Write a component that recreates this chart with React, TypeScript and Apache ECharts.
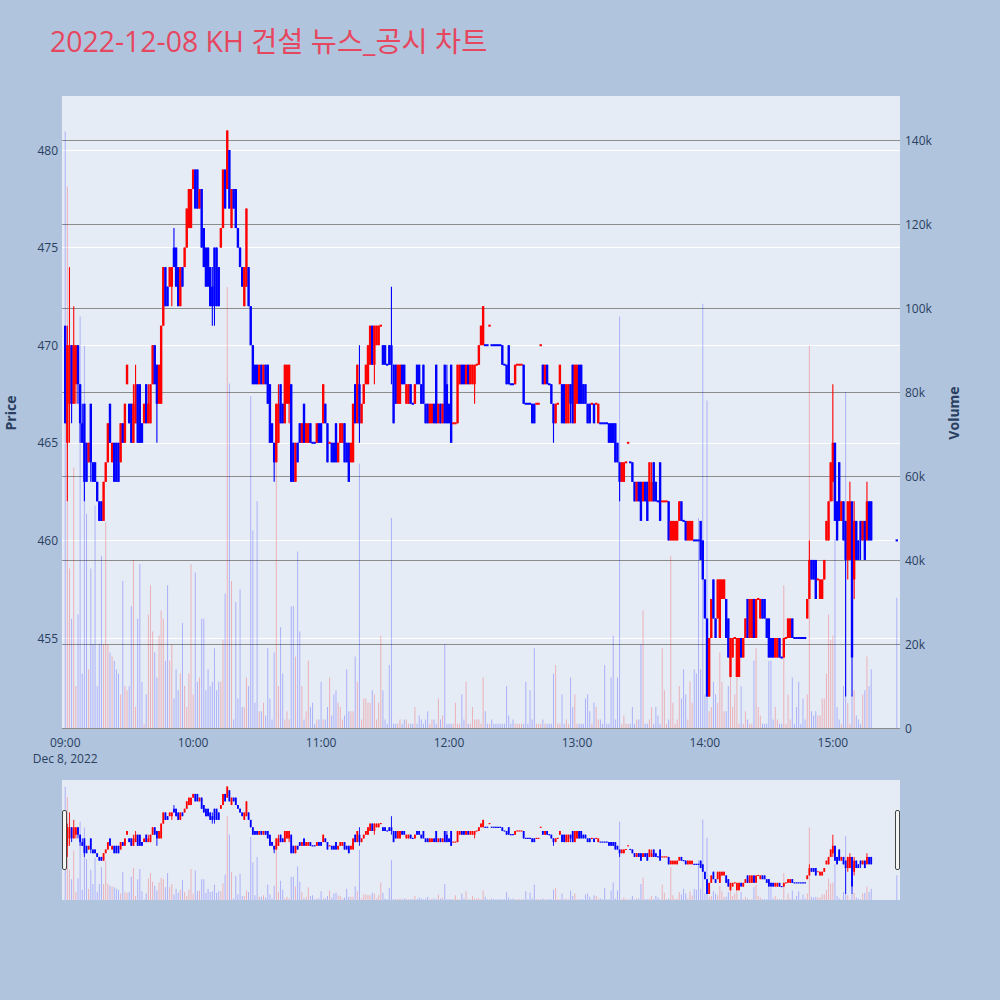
import React, { useEffect, useRef } from "react";
import * as echarts from "echarts";

// rows: [open, high, low, close, volume(thousands)] one per minute
const h09 = [
  [471,471,466,466,142],[465,471,462,470,129],[467,474,465,470,38],[470,470,466,467,26],[467,472,467,470,62],
  [468,470,467,470,10],[470,470,467,468,27],[468,468,465,466,98],[466,467,465,465,13],[467,467,462,463,91],
  [465,465,463,463,51],[464,465,464,465,14],[467,467,463,464,38],[464,464,463,463,20],[464,464,463,463,53],
  [463,463,462,462,10],[462,462,461,461,20],[462,462,461,461,41],[461,463,461,463,20],[463,464,463,464,49],
  [464,466,464,466,20],[467,467,465,465,18],[464,465,464,465,17],[465,465,463,463,16],[465,465,463,463,14],
  [465,465,463,463,13],[464,466,464,466,8],[466,466,465,465,35],[465,467,465,467,10],[468,469,468,469,9],
  [467,467,466,466,10],[467,467,465,465,29],[465,468,465,467,40],[466,469,466,468,5],[468,468,465,465,26],
  [468,468,465,465,39],[466,466,465,465,11],[466,467,466,467,1],[468,468,466,466,8],[466,468,466,467,27],
  [466,468,466,468,34],[468,470,468,470,23],[470,470,468,468,18],[469,469,465,467,12],[467,469,467,469,22],
  [467,471,467,471,28],[471,474,471,474,26],[474,474,472,472,16],[473,473,472,472,34],[473,474,473,474,16],
  [473,474,472,474,20],[475,476,474,474,7],[475,475,473,473,14],[474,474,472,472,9],[472,474,472,474,13],
  [474,474,473,473,25],[474,475,474,475,10],[475,477,475,477,5],[476,478,476,478,13],[476,478,476,478,39],
];
const h10 = [
  [478,479,478,479,8],[479,479,477,477,37],[479,479,477,477,11],[477,478,477,478,12],[478,478,475,475,26],
  [476,476,474,474,26],[475,475,473,473,9],[475,475,473,473,14],[474,474,472,472,10],[473,474,471,472,11],
  [475,475,471,472,19],[475,475,472,472,9],[474,474,472,472,11],[475,476,475,476,11],[476,479,476,479,21],
  [479,479,477,477,32],[478,481,478,481,105],[480,480,477,477,82],[476,478,476,478,35],[478,478,477,477,2],
  [478,478,476,476,30],[476,476,475,475,7],[475,475,474,474,33],[474,474,473,473,5],[472,474,472,474,5],
  [473,477,473,477,12],[474,474,472,472,10],[472,472,470,470,79],[470,470,468,468,47],[469,469,468,468,6],
  [469,469,468,468,54],[468,469,468,469,4],[469,469,468,468,4],[468,469,468,469,6],[469,469,468,468,3],
  [469,469,467,467,19],[468,468,465,465,7],[466,466,465,465,2],[465,465,463,464,18],[464,467,464,467,67],
  [465,468,465,467,10],[468,468,466,466,24],[467,467,466,466,13],[466,469,466,469,2],[467,469,467,469,4],
  [467,469,466,469,2],[468,468,463,463,29],[465,465,463,463,29],[463,465,463,465,17],[465,465,464,464,42],
  [466,466,465,465,23],[465,466,465,466,10],[467,467,465,465,2],[465,466,465,466,4],[465,466,465,466,16],
  [466,466,465,465,5],[465,465,465,465,6],[465,465,465,465,1],[465,466,465,466,2],[466,466,465,465,2],
];
const h11 = [
  [466,466,465,465,11],[466,468,466,468,2],[467,467,466,466,2],[466,466,464,464,5],[465,465,465,465,12],
  [465,465,464,464,3],[465,465,464,464,8],[466,466,464,464,9],[464,465,464,465,6],[465,466,465,466,5],
  [465,466,465,466,2],[466,466,464,464,3],[465,465,464,464,14],[465,465,463,463,4],[464,465,464,465,4],
  [464,467,464,467,4],[468,468,466,466,17],[466,469,466,469,11],[468,470,465,466,63],[466,467,466,467,2],
  [467,468,467,468,7],[468,469,468,469,7],[468,470,468,470,6],[469,471,469,471,6],[471,471,469,469,9],
  [469,471,468,471,8],[470,471,470,471,2],[470,471,470,471,6],[471,471,471,471,22],[470,470,469,469,9],
  [470,470,469,469,2],[469,469,469,469,1],[470,470,469,469,15],[470,473,468,469,50],[469,469,466,466,1],
  [469,469,467,467,1],[467,469,467,469,1],[467,469,467,469,2],[469,469,468,468,1],[469,469,468,468,2],
  [467,468,467,468,2],[467,468,467,468,1],[468,468,467,467,1],[467,467,467,467,1],[467,468,467,468,5],
  [469,469,468,468,1],[469,469,468,468,3],[468,468,467,467,2],[469,469,467,467,1],[467,467,466,466,2],
  [467,467,466,466,4],[466,467,466,467,1],[466,467,466,467,2],[467,467,466,466,2],[469,469,466,466,1],
  [466,467,466,467,7],[467,467,466,466,2],[466,467,466,467,3],[469,469,466,466,20],[468,469,466,466,1],
];
const h12 = [
  [467,467,466,466,1],[469,469,465,465,1],[466,466,466,466,1],[466,466,466,466,6],[466,469,466,469,1],
  [468,469,468,469,1],[469,469,468,468,8],[469,469,468,468,2],[468,469,468,469,11],[469,469,468,468,1],
  [468,469,468,469,1],[468,469,468,469,5],[468,469,467,469,2],[469,469,469,469,2],[469,470,469,470,2],
  [470,471,470,471,1],[470,472,470,472,12],[470,470,470,470,4],[470,470,470,470,1],[471,471,471,471,1],
  [470,470,470,470,2],[470,470,470,470,1],[470,470,470,470,1],[470,470,470,470,1],[470,470,470,470,1],
  [470,470,469,469,1],[469,469,469,469,1],[469,469,468,468,10],[470,470,468,468,3],[468,468,468,468,1],
  [468,468,468,468,2],[468,469,468,469,1],[469,469,469,469,1],[469,469,469,469,1],[469,469,469,469,1],
  [469,469,467,467,1],[467,467,467,467,11],[467,467,467,467,1],[467,467,467,467,9],[467,467,466,466,2],
  [467,467,466,466,19],[467,467,467,467,1],[467,467,467,467,1],[470,470,470,470,1],[469,469,468,468,2],
  [468,469,468,469,1],[469,469,468,468,1],[468,468,468,468,1],[468,468,467,467,1],[467,467,465,466,13],
  [466,467,466,467,15],[467,467,467,467,1],[468,469,468,469,1],[468,468,466,466,8],[468,468,466,466,1],
  [466,468,466,468,2],[466,468,466,468,1],[468,468,466,467,12],[469,469,466,466,5],[466,469,466,469,8],
];
const h13 = [
  [467,469,467,469,1],[469,469,467,467,1],[469,469,467,467,1],[468,468,467,467,1],[468,468,467,467,7],
  [467,467,466,466,8],[467,467,466,466,4],[467,467,467,467,1],[467,467,466,466,6],[467,467,467,467,5],
  [466,467,466,467,2],[466,466,466,466,2],[466,466,466,466,1],[466,466,466,466,15],[466,466,466,466,1],
  [466,466,465,465,1],[466,466,465,465,12],[466,466,465,465,22],[466,466,464,464,2],[465,465,464,464,12],
  [464,464,462,463,98],[463,464,463,464,1],[463,464,463,464,3],[464,464,464,464,1],[465,465,465,465,1],
  [464,464,464,464,1],[464,464,463,463,5],[463,463,462,462,1],[462,463,462,463,2],[463,463,462,462,2],
  [463,463,461,461,20],[462,463,462,463,28],[463,463,462,462,1],[463,463,461,461,1],[462,464,462,464,2],
  [462,464,462,463,5],[464,464,462,462,1],[463,463,462,462,5],[462,462,462,462,3],[464,464,461,461,1],
  [462,462,462,462,19],[462,462,462,462,9],[462,462,462,462,1],[462,462,460,460,2],[460,461,460,461,41],
  [460,461,460,461,6],[460,461,460,461,1],[460,461,460,461,2],[461,462,461,462,10],[462,462,461,461,7],
  [461,461,461,461,14],[461,461,460,460,8],[460,461,460,461,2],[460,461,460,461,11],[460,461,460,461,6],
  [460,460,460,460,14],[460,460,460,460,13],[460,460,460,460,50],[461,461,459,459,14],[460,460,458,458,101],
];
const h14 = [
  [458,458,456,456,8],[456,456,452,452,78],[452,455,452,455,4],[455,457,455,457,5],[458,458,456,456,11],
  [456,456,455,455,8],[456,458,456,458,6],[455,458,455,458,18],[457,458,457,458,11],[457,458,457,458,4],
  [457,457,455,455,4],[456,456,454,454,10],[453,455,453,455,14],[454,455,454,455,5],[455,455,455,455,8],
  [453,455,453,455,12],[453,455,453,455,1],[455,455,454,454,10],[454,455,454,455,1],[455,456,455,456,4],
  [457,457,455,455,2],[455,457,455,457,1],[455,457,455,457,1],[457,457,455,455,16],[455,457,455,457,19],
  [457,457,457,457,5],[456,457,456,457,3],[457,457,456,456,1],[457,457,456,456,1],[456,456,455,455,1],
  [456,456,454,454,16],[455,455,454,454,16],[455,455,454,454,2],[454,455,454,455,5],[454,455,454,455,2],
  [455,455,454,454,1],[454,454,454,454,1],[454,455,454,455,34],[455,455,455,455,1],[455,456,455,456,8],
  [455,456,455,456,2],[456,456,455,455,12],[455,455,455,455,1],[455,455,455,455,5],[455,455,455,455,11],
  [455,455,455,455,1],[455,455,455,455,7],[455,455,455,455,2],[456,457,456,457,8],[457,460,457,459,91],
  [459,459,458,458,4],[459,459,458,458,3],[459,459,457,457,4],[458,458,458,458,3],[457,458,457,458,3],
  [457,458,457,458,7],[458,459,458,459,7],[460,461,460,461,13],[460,462,460,462,27],[462,464,462,464,21],
];
const h15 = [
  [463,468,462,465,22],[465,465,461,461,45],[462,462,460,460,5],[464,464,461,461,2],[461,462,461,462,1],
  [462,462,460,460,10],[461,461,452,459,80],[459,462,458,462,6],[459,463,459,462,1],[462,462,452,454,8],
  [458,462,457,461,9],[461,461,459,459,3],[460,460,459,459,2],[461,461,459,460,1],[460,461,460,461,8],
  [461,461,459,459,9],[460,463,460,462,17],[462,462,460,460,10],[462,462,460,460,14],
];
const closing1530 = [460,460,460,460,31];

const priceTicks = [455, 460, 465, 470, 475, 480];
const volumeTicks = [0, 20, 40, 60, 80, 100, 120, 140];
const TITLE = "2022-12-08 KH 건설 뉴스_공시 차트";
const FONT = '"Open Sans", "Noto Sans CJK KR", sans-serif';
const UP = "#ff0000";
const DOWN = "#0000ff";

const hours = [h09, h10, h11, h12, h13, h14, h15];

function pad(n: number) { return n < 10 ? "0" + n : "" + n; }

// categories 08:59 .. 15:31
const categories: string[] = [];
const rows: (number[] | null)[] = [];
for (let i = 0; i < 393; i++) {
  const m = i - 1;
  const t = 9 * 60 + m;
  categories.push(pad(Math.floor(t / 60)) + ":" + pad(t % 60));
  let r: number[] | null = null;
  if (m >= 0 && m < 420) {
    const h = hours[Math.floor(m / 60)];
    if (h && h[m % 60]) r = h[m % 60];
  }
  if (m === 390) r = closing1530;
  rows.push(r);
}

// direction: 1 up (red), -1 down (blue); equal open/close follows previous close
const dirs: number[] = [];
let prevClose: number | null = null;
let prevDir = -1;
rows.forEach((r, i) => {
  let d = prevDir;
  if (r) {
    if (r[3] > r[0]) d = 1;
    else if (r[3] < r[0]) d = -1;
    else if (prevClose !== null) d = r[3] > prevClose ? 1 : r[3] < prevClose ? -1 : prevDir;
    prevClose = r[3];
    prevDir = d;
  }
  dirs[i] = d;
});

const candleData = rows.map((r, i) => (r ? [i, r[0], r[3], r[2], r[1], dirs[i]] : [i, "-", "-", "-", "-", 0]));
const volData = rows.map((r, i) =>
  r
    ? { value: r[4], itemStyle: { color: dirs[i] > 0 ? "rgba(255,0,0,0.25)" : "rgba(0,0,255,0.25)" } }
    : "-"
);

function makeRenderItem(bodyW: number, wickW: number, minH: number) {
  return (_params: any, api: any) => {
    const o = api.value(1);
    if (o === "-" || o == null || isNaN(o)) return null;
    const x = api.value(0);
    const c = api.value(2), l = api.value(3), h = api.value(4);
    const color = api.value(5) > 0 ? UP : DOWN;
    const pO = api.coord([x, o]);
    const pC = api.coord([x, c]);
    const pL = api.coord([x, l]);
    const pH = api.coord([x, h]);
    const cx = pO[0];
    let top = Math.min(pO[1], pC[1]);
    let hgt = Math.abs(pO[1] - pC[1]);
    if (hgt < minH) {
      top = (pO[1] + pC[1]) / 2 - minH / 2;
      hgt = minH;
    }
    return {
      type: "group",
      children: [
        { type: "line", shape: { x1: cx, y1: pH[1], x2: cx, y2: pL[1] }, style: { stroke: color, lineWidth: wickW } },
        { type: "rect", shape: { x: cx - bodyW / 2, y: top, width: bodyW, height: hgt }, style: { fill: color } },
      ],
    };
  };
}

const labelColor = "#2a3f5f";

function xAxisFor(grid: number, show: boolean) {
  return {
    type: "category",
    gridIndex: grid,
    data: categories,
    boundaryGap: true,
    show,
    axisLine: { show: false },
    axisTick: { show: false },
    splitLine: { show: false },
    axisLabel: {
      show,
      interval: (_i: number, v: string) => v.endsWith(":00"),
      formatter: (v: string) => (v === "09:00" ? "09:00\nDec 8, 2022" : v),
      color: labelColor,
      fontSize: 12,
      lineHeight: 16,
      margin: 6,
      fontFamily: FONT,
    },
  };
}

const option: any = {
  animation: false,
  backgroundColor: "#b0c4de",
  textStyle: { fontFamily: FONT },
  graphic: [
    { type: "rect", z: -10, silent: true, shape: { x: 62, y: 96, width: 838, height: 632 }, style: { fill: "#e5ecf6" } },
    { type: "rect", z: -10, silent: true, shape: { x: 62, y: 780, width: 838, height: 120 }, style: { fill: "#e5ecf6" } },
    { type: "rect", z: 50, silent: true, shape: { x: 62.5, y: 810.5, width: 4, height: 59, r: 1.5 }, style: { fill: "#f5f5f5", stroke: "#444", lineWidth: 1 } },
    { type: "rect", z: 50, silent: true, shape: { x: 895.5, y: 810.5, width: 4, height: 59, r: 1.5 }, style: { fill: "#f5f5f5", stroke: "#444", lineWidth: 1 } },
    {
      type: "text", x: 50, y: 41, z: 50,
      style: { text: TITLE, fill: "#e6475f", fontSize: 28.4, fontFamily: FONT, textAlign: "left", textVerticalAlign: "middle" },
    },
    {
      type: "text", x: 10, y: 413, rotation: Math.PI / 2, z: 50,
      style: { text: "Price", fill: labelColor, fontSize: 14, fontWeight: "bold", fontFamily: FONT, textAlign: "center", textVerticalAlign: "middle" },
    },
    {
      type: "text", x: 953, y: 413, rotation: Math.PI / 2, z: 50,
      style: { text: "Volume", fill: labelColor, fontSize: 14, fontWeight: "bold", fontFamily: FONT, textAlign: "center", textVerticalAlign: "middle" },
    },
  ],
  grid: [
    { left: 62, width: 838, top: 52.4, height: 683.2 },
    { left: 62, width: 838, top: 56, height: 672 },
    { left: 62, width: 838, top: 771.7, height: 129.7 },
    { left: 62, width: 838, top: 772.4, height: 127.6 },
  ],
  xAxis: [xAxisFor(0, false), xAxisFor(1, true), xAxisFor(2, false), xAxisFor(3, false)],
  yAxis: [
    {
      type: "value", gridIndex: 0, position: "left",
      min: priceTicks[0] - 5, max: priceTicks[priceTicks.length - 1] + 5, interval: 5,
      axisLine: { show: false }, axisTick: { show: false },
      axisLabel: { color: labelColor, fontSize: 12, margin: 4, showMinLabel: false, showMaxLabel: false, fontFamily: FONT },
      splitLine: { show: true, showMinLine: false, showMaxLine: false, lineStyle: { color: "#ffffff", width: 1 } },
    },
    {
      type: "value", gridIndex: 1, position: "right",
      min: volumeTicks[0], max: volumeTicks[volumeTicks.length - 1] + 20, interval: 20,
      axisLine: { show: false }, axisTick: { show: false },
      axisLabel: {
        color: labelColor, fontSize: 12, margin: 5, showMaxLabel: false, fontFamily: FONT,
        formatter: (v: number) => (v === 0 ? "0" : v + "k"),
      },
      splitLine: { show: true, showMaxLine: false, lineStyle: { color: "#8c8c8c", width: 1 } },
    },
    { type: "value", gridIndex: 2, min: 450, max: 485, show: false, splitLine: { show: false } },
    { type: "value", gridIndex: 3, min: 0, max: 160, show: false, splitLine: { show: false } },
  ],
  series: [
    {
      type: "bar", name: "Volume", xAxisIndex: 1, yAxisIndex: 1, data: volData,
      barWidth: 1, z: 1, silent: true,
    },
    {
      type: "custom", name: "Price", xAxisIndex: 0, yAxisIndex: 0, data: candleData,
      encode: { x: 0, y: [1, 2, 3, 4] }, z: 3, silent: true,
      renderItem: makeRenderItem(2.4, 1.1, 2),
    },
    {
      type: "bar", xAxisIndex: 3, yAxisIndex: 3, data: volData,
      barWidth: 1, z: 1, silent: true,
    },
    {
      type: "custom", xAxisIndex: 2, yAxisIndex: 2, data: candleData,
      encode: { x: 0, y: [1, 2, 3, 4] }, z: 3, silent: true,
      renderItem: makeRenderItem(1.8, 0.9, 1.2),
    },
  ],
};

export default function App() {
  const ref = useRef<HTMLDivElement>(null);
  useEffect(() => {
    if (!ref.current) return;
    const chart = echarts.init(ref.current, undefined, { renderer: "svg" });
    chart.setOption(option);
    return () => chart.dispose();
  }, []);
  return <div ref={ref} style={{ position: "fixed", left: 0, top: 0, width: 1000, height: 1000 }} />;
}
